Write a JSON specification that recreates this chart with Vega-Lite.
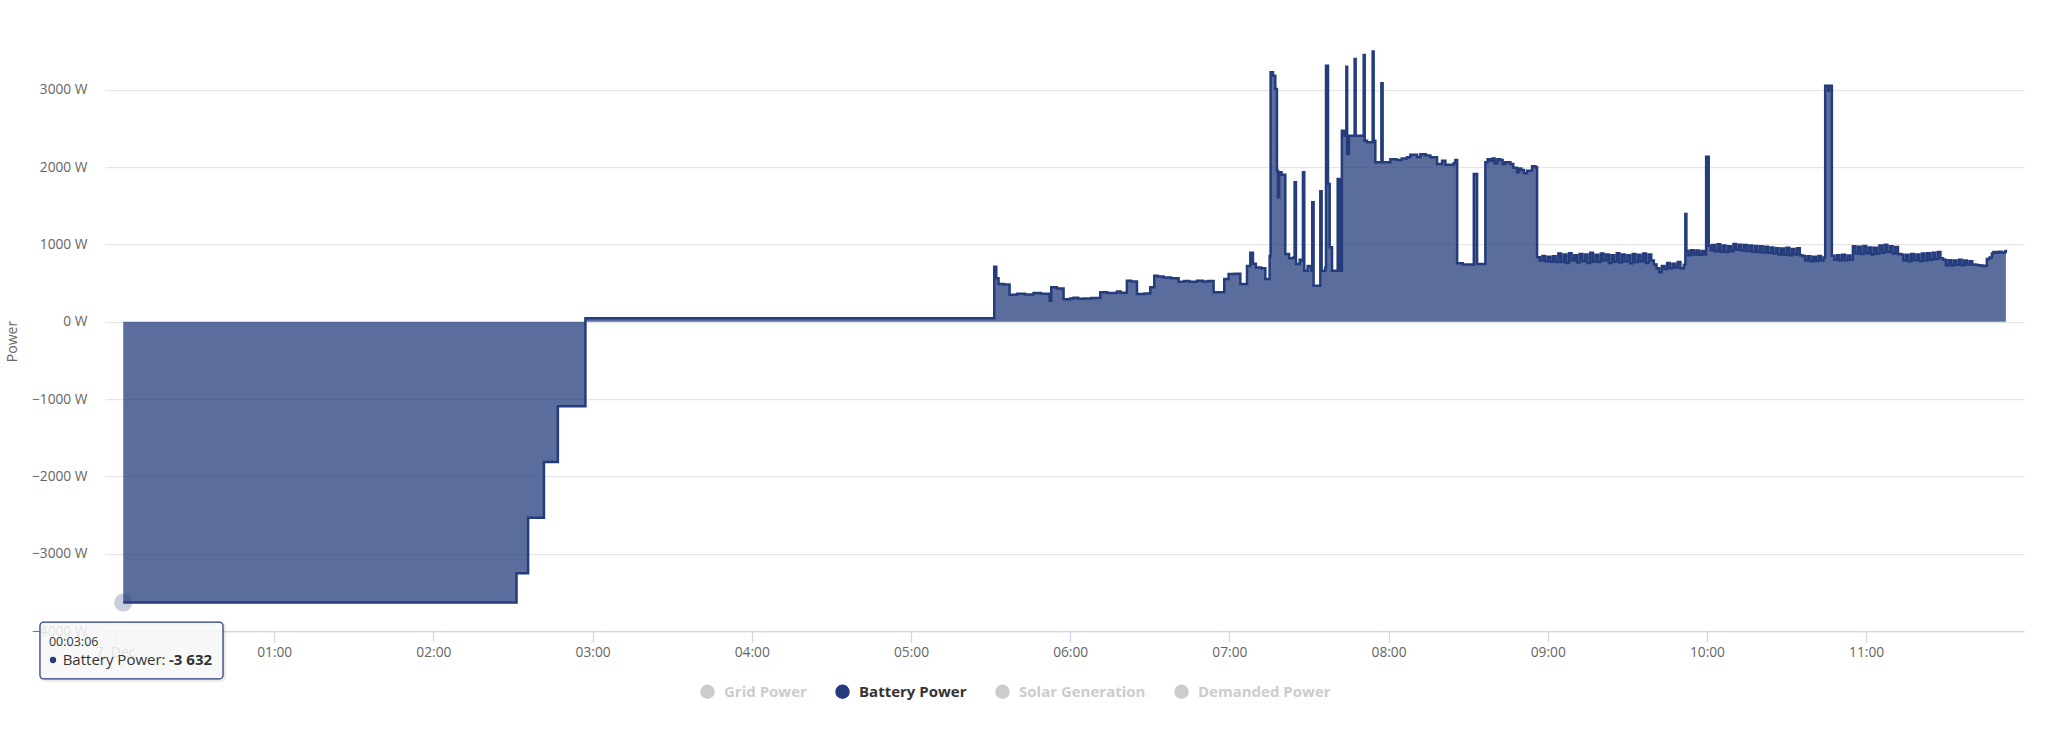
{
  "$schema": "https://vega.github.io/schema/vega-lite/v6.json",
  "width": 1919,
  "height": 580,
  "autosize": {"type": "none"},
  "padding": {"left": 105, "top": 51, "right": 34, "bottom": 105},
  "background": "#ffffff",
  "config": {
    "font": "Open Sans",
    "view": {"stroke": null},
    "axis": {"labelColor": "#666666", "labelFontSize": 13.75, "titleColor": "#666666"}
  },
  "datasets": {
    "battery": [
      {"t": "2023-12-07 00:03:06", "v": -3632},
      {"t": "2023-12-07 02:31:20", "v": -3253},
      {"t": "2023-12-07 02:35:42", "v": -2537},
      {"t": "2023-12-07 02:41:40", "v": -1815},
      {"t": "2023-12-07 02:46:55", "v": -1093},
      {"t": "2023-12-07 02:57:18", "v": 45},
      {"t": "2023-12-07 05:31:23", "v": 711},
      {"t": "2023-12-07 05:32:09", "v": 560},
      {"t": "2023-12-07 05:33:00", "v": 487},
      {"t": "2023-12-07 05:35:00", "v": 480},
      {"t": "2023-12-07 05:37:10", "v": 349},
      {"t": "2023-12-07 05:40:00", "v": 360},
      {"t": "2023-12-07 05:43:00", "v": 352},
      {"t": "2023-12-07 05:46:13", "v": 370},
      {"t": "2023-12-07 05:49:00", "v": 362},
      {"t": "2023-12-07 05:51:15", "v": 360},
      {"t": "2023-12-07 05:52:15", "v": 272},
      {"t": "2023-12-07 05:52:52", "v": 444},
      {"t": "2023-12-07 05:55:00", "v": 430},
      {"t": "2023-12-07 05:57:31", "v": 290},
      {"t": "2023-12-07 06:00:00", "v": 300},
      {"t": "2023-12-07 06:01:16", "v": 310},
      {"t": "2023-12-07 06:03:00", "v": 295},
      {"t": "2023-12-07 06:05:02", "v": 300},
      {"t": "2023-12-07 06:08:00", "v": 305},
      {"t": "2023-12-07 06:11:20", "v": 379},
      {"t": "2023-12-07 06:14:00", "v": 370},
      {"t": "2023-12-07 06:17:38", "v": 390},
      {"t": "2023-12-07 06:19:00", "v": 375},
      {"t": "2023-12-07 06:21:22", "v": 530},
      {"t": "2023-12-07 06:23:00", "v": 520},
      {"t": "2023-12-07 06:25:11", "v": 358},
      {"t": "2023-12-07 06:28:00", "v": 365},
      {"t": "2023-12-07 06:30:11", "v": 444},
      {"t": "2023-12-07 06:31:41", "v": 595},
      {"t": "2023-12-07 06:33:00", "v": 585},
      {"t": "2023-12-07 06:35:13", "v": 570},
      {"t": "2023-12-07 06:38:00", "v": 560},
      {"t": "2023-12-07 06:40:52", "v": 517},
      {"t": "2023-12-07 06:43:00", "v": 525},
      {"t": "2023-12-07 06:45:00", "v": 515},
      {"t": "2023-12-07 06:47:49", "v": 530},
      {"t": "2023-12-07 06:50:00", "v": 520},
      {"t": "2023-12-07 06:52:00", "v": 525},
      {"t": "2023-12-07 06:54:04", "v": 379},
      {"t": "2023-12-07 06:58:05", "v": 552},
      {"t": "2023-12-07 06:59:43", "v": 616},
      {"t": "2023-12-07 07:02:00", "v": 620},
      {"t": "2023-12-07 07:04:08", "v": 487},
      {"t": "2023-12-07 07:06:39", "v": 720},
      {"t": "2023-12-07 07:07:54", "v": 892},
      {"t": "2023-12-07 07:08:54", "v": 750},
      {"t": "2023-12-07 07:10:00", "v": 700},
      {"t": "2023-12-07 07:12:00", "v": 690},
      {"t": "2023-12-07 07:13:33", "v": 552},
      {"t": "2023-12-07 07:15:11", "v": 850},
      {"t": "2023-12-07 07:15:33", "v": 3224},
      {"t": "2023-12-07 07:16:27", "v": 3181},
      {"t": "2023-12-07 07:17:19", "v": 3008},
      {"t": "2023-12-07 07:17:56", "v": 1952},
      {"t": "2023-12-07 07:18:20", "v": 1608},
      {"t": "2023-12-07 07:18:45", "v": 1931},
      {"t": "2023-12-07 07:19:40", "v": 1900},
      {"t": "2023-12-07 07:21:05", "v": 875},
      {"t": "2023-12-07 07:22:30", "v": 820},
      {"t": "2023-12-07 07:24:14", "v": 832},
      {"t": "2023-12-07 07:24:36", "v": 1802},
      {"t": "2023-12-07 07:25:06", "v": 746},
      {"t": "2023-12-07 07:26:30", "v": 800},
      {"t": "2023-12-07 07:27:21", "v": 789},
      {"t": "2023-12-07 07:27:44", "v": 1931},
      {"t": "2023-12-07 07:28:14", "v": 659},
      {"t": "2023-12-07 07:29:30", "v": 720},
      {"t": "2023-12-07 07:30:52", "v": 659},
      {"t": "2023-12-07 07:31:15", "v": 1543},
      {"t": "2023-12-07 07:31:45", "v": 465},
      {"t": "2023-12-07 07:33:54", "v": 465},
      {"t": "2023-12-07 07:34:17", "v": 1685},
      {"t": "2023-12-07 07:34:47", "v": 659},
      {"t": "2023-12-07 07:36:11", "v": 700},
      {"t": "2023-12-07 07:36:26", "v": 3310},
      {"t": "2023-12-07 07:37:11", "v": 1780},
      {"t": "2023-12-07 07:37:49", "v": 961},
      {"t": "2023-12-07 07:38:42", "v": 659},
      {"t": "2023-12-07 07:40:35", "v": 659},
      {"t": "2023-12-07 07:40:50", "v": 1845},
      {"t": "2023-12-07 07:41:27", "v": 659},
      {"t": "2023-12-07 07:42:24", "v": 2470},
      {"t": "2023-12-07 07:43:19", "v": 2405},
      {"t": "2023-12-07 07:44:06", "v": 3297},
      {"t": "2023-12-07 07:44:24", "v": 2168},
      {"t": "2023-12-07 07:45:04", "v": 2405},
      {"t": "2023-12-07 07:47:13", "v": 3396},
      {"t": "2023-12-07 07:47:36", "v": 2405},
      {"t": "2023-12-07 07:50:38", "v": 3448},
      {"t": "2023-12-07 07:51:01", "v": 2340},
      {"t": "2023-12-07 07:51:54", "v": 2319},
      {"t": "2023-12-07 07:54:01", "v": 3495},
      {"t": "2023-12-07 07:54:23", "v": 2340},
      {"t": "2023-12-07 07:55:01", "v": 2060},
      {"t": "2023-12-07 07:57:18", "v": 3082},
      {"t": "2023-12-07 07:57:46", "v": 2060},
      {"t": "2023-12-07 08:00:41", "v": 2100},
      {"t": "2023-12-07 08:03:00", "v": 2090},
      {"t": "2023-12-07 08:05:00", "v": 2110},
      {"t": "2023-12-07 08:06:58", "v": 2125},
      {"t": "2023-12-07 08:08:13", "v": 2160},
      {"t": "2023-12-07 08:10:44", "v": 2130},
      {"t": "2023-12-07 08:12:00", "v": 2165},
      {"t": "2023-12-07 08:14:00", "v": 2150},
      {"t": "2023-12-07 08:15:46", "v": 2125},
      {"t": "2023-12-07 08:18:17", "v": 2039},
      {"t": "2023-12-07 08:20:10", "v": 2080},
      {"t": "2023-12-07 08:21:25", "v": 2030},
      {"t": "2023-12-07 08:24:33", "v": 2050},
      {"t": "2023-12-07 08:25:10", "v": 2090},
      {"t": "2023-12-07 08:25:52", "v": 754},
      {"t": "2023-12-07 08:28:00", "v": 740},
      {"t": "2023-12-07 08:31:53", "v": 737},
      {"t": "2023-12-07 08:32:08", "v": 1909},
      {"t": "2023-12-07 08:33:22", "v": 746},
      {"t": "2023-12-07 08:35:52", "v": 746},
      {"t": "2023-12-07 08:36:29", "v": 2060},
      {"t": "2023-12-07 08:37:20", "v": 2100},
      {"t": "2023-12-07 08:38:22", "v": 2082},
      {"t": "2023-12-07 08:39:10", "v": 2110},
      {"t": "2023-12-07 08:40:00", "v": 2050},
      {"t": "2023-12-07 08:41:00", "v": 2100},
      {"t": "2023-12-07 08:42:08", "v": 2090},
      {"t": "2023-12-07 08:43:00", "v": 2040},
      {"t": "2023-12-07 08:44:00", "v": 2060},
      {"t": "2023-12-07 08:45:55", "v": 2040},
      {"t": "2023-12-07 08:47:00", "v": 1990},
      {"t": "2023-12-07 08:48:25", "v": 1931},
      {"t": "2023-12-07 08:49:10", "v": 1980},
      {"t": "2023-12-07 08:50:00", "v": 1960},
      {"t": "2023-12-07 08:51:00", "v": 1920},
      {"t": "2023-12-07 08:52:12", "v": 1950},
      {"t": "2023-12-07 08:54:06", "v": 2010},
      {"t": "2023-12-07 08:55:22", "v": 1996},
      {"t": "2023-12-07 08:55:59", "v": 832},
      {"t": "2023-12-07 08:57:00", "v": 790},
      {"t": "2023-12-07 08:58:00", "v": 850},
      {"t": "2023-12-07 08:59:00", "v": 780},
      {"t": "2023-12-07 09:00:00", "v": 840},
      {"t": "2023-12-07 09:01:00", "v": 775},
      {"t": "2023-12-07 09:02:00", "v": 845},
      {"t": "2023-12-07 09:03:00", "v": 770},
      {"t": "2023-12-07 09:04:00", "v": 880},
      {"t": "2023-12-07 09:05:00", "v": 770},
      {"t": "2023-12-07 09:06:00", "v": 870},
      {"t": "2023-12-07 09:07:00", "v": 760},
      {"t": "2023-12-07 09:08:00", "v": 885},
      {"t": "2023-12-07 09:09:00", "v": 790},
      {"t": "2023-12-07 09:10:00", "v": 860},
      {"t": "2023-12-07 09:11:00", "v": 765},
      {"t": "2023-12-07 09:12:00", "v": 875},
      {"t": "2023-12-07 09:13:00", "v": 780},
      {"t": "2023-12-07 09:14:00", "v": 870},
      {"t": "2023-12-07 09:15:00", "v": 760},
      {"t": "2023-12-07 09:16:00", "v": 890},
      {"t": "2023-12-07 09:17:00", "v": 775},
      {"t": "2023-12-07 09:18:00", "v": 865},
      {"t": "2023-12-07 09:19:00", "v": 770},
      {"t": "2023-12-07 09:20:00", "v": 880},
      {"t": "2023-12-07 09:21:00", "v": 790},
      {"t": "2023-12-07 09:22:00", "v": 870},
      {"t": "2023-12-07 09:23:00", "v": 760},
      {"t": "2023-12-07 09:24:00", "v": 860},
      {"t": "2023-12-07 09:25:00", "v": 775},
      {"t": "2023-12-07 09:26:00", "v": 885},
      {"t": "2023-12-07 09:27:00", "v": 765},
      {"t": "2023-12-07 09:28:00", "v": 870},
      {"t": "2023-12-07 09:29:00", "v": 780},
      {"t": "2023-12-07 09:30:00", "v": 860},
      {"t": "2023-12-07 09:31:00", "v": 755},
      {"t": "2023-12-07 09:32:00", "v": 875},
      {"t": "2023-12-07 09:33:00", "v": 770},
      {"t": "2023-12-07 09:34:00", "v": 865},
      {"t": "2023-12-07 09:35:00", "v": 780},
      {"t": "2023-12-07 09:36:00", "v": 880},
      {"t": "2023-12-07 09:37:00", "v": 760},
      {"t": "2023-12-07 09:38:00", "v": 870},
      {"t": "2023-12-07 09:39:00", "v": 790},
      {"t": "2023-12-07 09:40:00", "v": 740},
      {"t": "2023-12-07 09:41:00", "v": 690},
      {"t": "2023-12-07 09:42:00", "v": 640},
      {"t": "2023-12-07 09:43:00", "v": 720},
      {"t": "2023-12-07 09:44:00", "v": 680},
      {"t": "2023-12-07 09:45:00", "v": 760},
      {"t": "2023-12-07 09:46:00", "v": 690},
      {"t": "2023-12-07 09:47:00", "v": 750},
      {"t": "2023-12-07 09:48:00", "v": 700},
      {"t": "2023-12-07 09:49:00", "v": 770},
      {"t": "2023-12-07 09:50:00", "v": 690},
      {"t": "2023-12-07 09:51:17", "v": 737},
      {"t": "2023-12-07 09:51:52", "v": 1392},
      {"t": "2023-12-07 09:52:15", "v": 918},
      {"t": "2023-12-07 09:53:00", "v": 860},
      {"t": "2023-12-07 09:54:00", "v": 925},
      {"t": "2023-12-07 09:55:00", "v": 870},
      {"t": "2023-12-07 09:56:00", "v": 920},
      {"t": "2023-12-07 09:57:00", "v": 865},
      {"t": "2023-12-07 09:58:00", "v": 915},
      {"t": "2023-12-07 09:59:00", "v": 870},
      {"t": "2023-12-07 09:59:42", "v": 2133},
      {"t": "2023-12-07 10:00:40", "v": 983},
      {"t": "2023-12-07 10:01:30", "v": 920},
      {"t": "2023-12-07 10:02:00", "v": 990},
      {"t": "2023-12-07 10:03:00", "v": 910},
      {"t": "2023-12-07 10:04:00", "v": 1000},
      {"t": "2023-12-07 10:05:00", "v": 905},
      {"t": "2023-12-07 10:06:00", "v": 985},
      {"t": "2023-12-07 10:07:00", "v": 900},
      {"t": "2023-12-07 10:08:00", "v": 975},
      {"t": "2023-12-07 10:09:00", "v": 910},
      {"t": "2023-12-07 10:10:00", "v": 1005},
      {"t": "2023-12-07 10:11:00", "v": 930},
      {"t": "2023-12-07 10:12:00", "v": 995},
      {"t": "2023-12-07 10:13:00", "v": 920},
      {"t": "2023-12-07 10:14:00", "v": 990},
      {"t": "2023-12-07 10:15:00", "v": 915},
      {"t": "2023-12-07 10:16:00", "v": 985},
      {"t": "2023-12-07 10:17:00", "v": 905},
      {"t": "2023-12-07 10:18:00", "v": 980},
      {"t": "2023-12-07 10:19:00", "v": 900},
      {"t": "2023-12-07 10:20:00", "v": 975},
      {"t": "2023-12-07 10:21:00", "v": 895},
      {"t": "2023-12-07 10:22:00", "v": 970},
      {"t": "2023-12-07 10:23:00", "v": 890},
      {"t": "2023-12-07 10:24:00", "v": 960},
      {"t": "2023-12-07 10:25:00", "v": 880},
      {"t": "2023-12-07 10:26:00", "v": 950},
      {"t": "2023-12-07 10:27:00", "v": 870},
      {"t": "2023-12-07 10:28:00", "v": 945},
      {"t": "2023-12-07 10:29:00", "v": 865},
      {"t": "2023-12-07 10:30:00", "v": 955},
      {"t": "2023-12-07 10:31:00", "v": 860},
      {"t": "2023-12-07 10:32:00", "v": 940},
      {"t": "2023-12-07 10:33:00", "v": 870},
      {"t": "2023-12-07 10:34:00", "v": 950},
      {"t": "2023-12-07 10:35:00", "v": 860},
      {"t": "2023-12-07 10:36:00", "v": 850},
      {"t": "2023-12-07 10:37:00", "v": 790},
      {"t": "2023-12-07 10:38:00", "v": 845},
      {"t": "2023-12-07 10:39:00", "v": 780},
      {"t": "2023-12-07 10:40:00", "v": 840},
      {"t": "2023-12-07 10:41:00", "v": 785},
      {"t": "2023-12-07 10:42:00", "v": 850},
      {"t": "2023-12-07 10:43:00", "v": 790},
      {"t": "2023-12-07 10:44:00", "v": 830},
      {"t": "2023-12-07 10:44:34", "v": 3051},
      {"t": "2023-12-07 10:45:40", "v": 2990},
      {"t": "2023-12-07 10:46:00", "v": 3051},
      {"t": "2023-12-07 10:47:05", "v": 853},
      {"t": "2023-12-07 10:48:00", "v": 800},
      {"t": "2023-12-07 10:49:00", "v": 860},
      {"t": "2023-12-07 10:50:00", "v": 790},
      {"t": "2023-12-07 10:51:00", "v": 865},
      {"t": "2023-12-07 10:52:00", "v": 795},
      {"t": "2023-12-07 10:53:00", "v": 855},
      {"t": "2023-12-07 10:54:00", "v": 800},
      {"t": "2023-12-07 10:55:00", "v": 975},
      {"t": "2023-12-07 10:56:00", "v": 880},
      {"t": "2023-12-07 10:57:00", "v": 970},
      {"t": "2023-12-07 10:58:00", "v": 875},
      {"t": "2023-12-07 10:59:00", "v": 980},
      {"t": "2023-12-07 11:00:00", "v": 885},
      {"t": "2023-12-07 11:01:00", "v": 960},
      {"t": "2023-12-07 11:02:00", "v": 870},
      {"t": "2023-12-07 11:03:00", "v": 955},
      {"t": "2023-12-07 11:04:00", "v": 880},
      {"t": "2023-12-07 11:05:00", "v": 985},
      {"t": "2023-12-07 11:06:00", "v": 890},
      {"t": "2023-12-07 11:07:00", "v": 995},
      {"t": "2023-12-07 11:08:00", "v": 900},
      {"t": "2023-12-07 11:09:00", "v": 975},
      {"t": "2023-12-07 11:10:00", "v": 880},
      {"t": "2023-12-07 11:11:00", "v": 965},
      {"t": "2023-12-07 11:12:00", "v": 875},
      {"t": "2023-12-07 11:13:00", "v": 870},
      {"t": "2023-12-07 11:14:00", "v": 790},
      {"t": "2023-12-07 11:15:00", "v": 865},
      {"t": "2023-12-07 11:16:00", "v": 780},
      {"t": "2023-12-07 11:17:00", "v": 875},
      {"t": "2023-12-07 11:18:00", "v": 795},
      {"t": "2023-12-07 11:19:00", "v": 870},
      {"t": "2023-12-07 11:20:00", "v": 785},
      {"t": "2023-12-07 11:21:00", "v": 880},
      {"t": "2023-12-07 11:22:00", "v": 790},
      {"t": "2023-12-07 11:23:00", "v": 885},
      {"t": "2023-12-07 11:24:00", "v": 800},
      {"t": "2023-12-07 11:25:00", "v": 890},
      {"t": "2023-12-07 11:26:00", "v": 810},
      {"t": "2023-12-07 11:27:00", "v": 900},
      {"t": "2023-12-07 11:28:00", "v": 820},
      {"t": "2023-12-07 11:29:00", "v": 800},
      {"t": "2023-12-07 11:30:00", "v": 730},
      {"t": "2023-12-07 11:31:00", "v": 795},
      {"t": "2023-12-07 11:32:00", "v": 725},
      {"t": "2023-12-07 11:33:00", "v": 790},
      {"t": "2023-12-07 11:34:00", "v": 735},
      {"t": "2023-12-07 11:35:00", "v": 800},
      {"t": "2023-12-07 11:36:00", "v": 730},
      {"t": "2023-12-07 11:37:00", "v": 790},
      {"t": "2023-12-07 11:38:00", "v": 740},
      {"t": "2023-12-07 11:39:00", "v": 780},
      {"t": "2023-12-07 11:40:00", "v": 740},
      {"t": "2023-12-07 11:41:00", "v": 735},
      {"t": "2023-12-07 11:42:00", "v": 730},
      {"t": "2023-12-07 11:43:00", "v": 725},
      {"t": "2023-12-07 11:44:00", "v": 720},
      {"t": "2023-12-07 11:44:53", "v": 724},
      {"t": "2023-12-07 11:45:30", "v": 810},
      {"t": "2023-12-07 11:46:30", "v": 830},
      {"t": "2023-12-07 11:47:24", "v": 883},
      {"t": "2023-12-07 11:48:00", "v": 900},
      {"t": "2023-12-07 11:49:00", "v": 890},
      {"t": "2023-12-07 11:50:00", "v": 905},
      {"t": "2023-12-07 11:51:00", "v": 895},
      {"t": "2023-12-07 11:52:26", "v": 909},
      {"t": "2023-12-07 11:52:40", "v": 930}
    ]
  },
  "layer": [
    {
      "data": {"name": "battery", "format": {"parse": {"t": "date:'%Y-%m-%d %H:%M:%S'"}}},
      "mark": {"type": "area", "interpolate": "step-after", "fillOpacity": 0.75, "line": {"color": "#243c7c", "strokeWidth": 2.5}},
      "encoding": {
        "x": {
          "field": "t",
          "type": "temporal",
          "title": null,
          "scale": {"domain": [
            {"year": 2023, "month": 12, "date": 6, "hours": 23, "minutes": 56, "seconds": 14},
            {"year": 2023, "month": 12, "date": 7, "hours": 11, "minutes": 59, "seconds": 30}
          ]},
          "axis": {
            "grid": false,
            "values": [
              {"year": 2023, "month": 12, "date": 7, "hours": 0},
              {"year": 2023, "month": 12, "date": 7, "hours": 1},
              {"year": 2023, "month": 12, "date": 7, "hours": 2},
              {"year": 2023, "month": 12, "date": 7, "hours": 3},
              {"year": 2023, "month": 12, "date": 7, "hours": 4},
              {"year": 2023, "month": 12, "date": 7, "hours": 5},
              {"year": 2023, "month": 12, "date": 7, "hours": 6},
              {"year": 2023, "month": 12, "date": 7, "hours": 7},
              {"year": 2023, "month": 12, "date": 7, "hours": 8},
              {"year": 2023, "month": 12, "date": 7, "hours": 9},
              {"year": 2023, "month": 12, "date": 7, "hours": 10},
              {"year": 2023, "month": 12, "date": 7, "hours": 11}
            ],
            "format": "%H:%M",
            "labelExpr": "datum.label == '00:00' ? '7. Dec' : datum.label",
            "domainColor": "#ccd6eb",
            "domainWidth": 1.25,
            "tickColor": "#ccd6eb",
            "tickWidth": 1.25,
            "tickSize": 11,
            "labelPadding": 3
          }
        },
        "y": {
          "field": "v",
          "type": "quantitative",
          "title": "Power",
          "scale": {"domain": [-4000, 3500], "nice": false},
          "axis": {
            "values": [-4000, -3000, -2000, -1000, 0, 1000, 2000, 3000],
            "format": "d",
            "labelExpr": "datum.label + ' W'",
            "domain": false,
            "ticks": false,
            "labelPadding": 18,
            "gridColor": "#e6e6e6",
            "gridWidth": 1.25,
            "titleFontSize": 14,
            "titleFontWeight": "normal",
            "titlePadding": 12
          }
        },
        "color": {
          "datum": "Battery Power",
          "scale": {
            "domain": ["Grid Power", "Battery Power", "Solar Generation", "Demanded Power"],
            "range": ["#cccccc", "#243c7c", "#cccccc", "#cccccc"]
          },
          "legend": {
            "title": null,
            "orient": "none",
            "legendX": 595,
            "legendY": 633,
            "direction": "horizontal",
            "symbolType": "circle",
            "symbolSize": 210,
            "symbolStrokeWidth": 0,
            "symbolOpacity": 1,
            "labelFontSize": 15,
            "labelFontWeight": "bold",
            "labelColor": "#cccccc",
            "labelOffset": 9,
            "columnPadding": 28,
            "encode": {
              "labels": {"update": {"fill": {"signal": "datum.label === 'Battery Power' ? '#333333' : '#cccccc'"}}}
            }
          }
        }
      }
    },
    {
      "data": {"values": [{"t": "2023-12-07 00:03:06", "v": -3632}], "format": {"parse": {"t": "date:'%Y-%m-%d %H:%M:%S'"}}},
      "mark": {"type": "point", "filled": true, "size": 324, "color": "#243c7c", "opacity": 0.25},
      "encoding": {
        "x": {"field": "t", "type": "temporal", "title": null},
        "y": {"field": "v", "type": "quantitative", "title": "Power"}
      }
    },
    {
      "data": {"values": [
        {"a": "2023-12-06 23:32:17", "b": "2023-12-07 00:41:17", "y1": -3903, "y2": -4639}
      ], "format": {"parse": {"a": "date:'%Y-%m-%d %H:%M:%S'", "b": "date:'%Y-%m-%d %H:%M:%S'"}}},
      "mark": {"type": "rect", "filled": false, "stroke": "#000000", "strokeOpacity": 0.08, "strokeWidth": 3, "cornerRadius": 4},
      "encoding": {
        "x": {"field": "a", "type": "temporal", "title": null},
        "x2": {"field": "b"},
        "y": {"field": "y1", "type": "quantitative", "title": "Power"},
        "y2": {"field": "y2"}
      }
    },
    {
      "data": {"values": [
        {"a": "2023-12-06 23:31:43", "b": "2023-12-07 00:40:43", "y1": -3884, "y2": -4620}
      ], "format": {"parse": {"a": "date:'%Y-%m-%d %H:%M:%S'", "b": "date:'%Y-%m-%d %H:%M:%S'"}}},
      "mark": {"type": "rect", "fill": "#f7f7f7", "fillOpacity": 0.85, "stroke": "#243c7c", "strokeWidth": 1.25, "cornerRadius": 3.75},
      "encoding": {
        "x": {"field": "a", "type": "temporal", "title": null},
        "x2": {"field": "b"},
        "y": {"field": "y1", "type": "quantitative", "title": "Power"},
        "y2": {"field": "y2"}
      }
    },
    {
      "data": {"values": [{"t": "2023-12-07 00:05:39", "v": -3845}], "format": {"parse": {"t": "date:'%Y-%m-%d %H:%M:%S'"}}},
      "mark": {"type": "point", "shape": "M-1,0.55L0,-0.4L1,0.55Z", "size": 225, "filled": true, "fill": "#f7f7f7", "opacity": 1, "strokeWidth": 0},
      "encoding": {
        "x": {"field": "t", "type": "temporal", "title": null},
        "y": {"field": "v", "type": "quantitative", "title": "Power"}
      }
    },
    {
      "data": {"values": [{"t": "2023-12-07 00:05:39", "v": -3845}], "format": {"parse": {"t": "date:'%Y-%m-%d %H:%M:%S'"}}},
      "mark": {"type": "point", "shape": "M-1,0.4L0,-0.4L1,0.4", "size": 225, "filled": false, "stroke": "#243c7c", "strokeWidth": 1.25, "opacity": 1},
      "encoding": {
        "x": {"field": "t", "type": "temporal", "title": null},
        "y": {"field": "v", "type": "quantitative", "title": "Power"}
      }
    },
    {
      "data": {"values": [{"t": "2023-12-06 23:36:38", "v": -4375}], "format": {"parse": {"t": "date:'%Y-%m-%d %H:%M:%S'"}}},
      "mark": {"type": "point", "filled": true, "size": 40, "color": "#243c7c", "opacity": 1},
      "encoding": {
        "x": {"field": "t", "type": "temporal", "title": null},
        "y": {"field": "v", "type": "quantitative", "title": "Power"}
      }
    },
    {
      "data": {"values": [
        {"t": "2023-12-06 23:35:07", "v": -4142, "label": "00:03:06"}
      ], "format": {"parse": {"t": "date:'%Y-%m-%d %H:%M:%S'"}}},
      "mark": {"type": "text", "align": "left", "baseline": "middle", "fontSize": 12.5, "color": "#333333"},
      "encoding": {
        "x": {"field": "t", "type": "temporal", "title": null},
        "y": {"field": "v", "type": "quantitative", "title": "Power"},
        "text": {"field": "label"}
      }
    },
    {
      "data": {"values": [
        {"t": "2023-12-06 23:40:17", "v": -4375, "label": "Battery Power:"}
      ], "format": {"parse": {"t": "date:'%Y-%m-%d %H:%M:%S'"}}},
      "mark": {"type": "text", "align": "left", "baseline": "middle", "fontSize": 15, "color": "#333333"},
      "encoding": {
        "x": {"field": "t", "type": "temporal", "title": null},
        "y": {"field": "v", "type": "quantitative", "title": "Power"},
        "text": {"field": "label"}
      }
    },
    {
      "data": {"values": [
        {"t": "2023-12-07 00:20:22", "v": -4375, "label": "-3 632"}
      ], "format": {"parse": {"t": "date:'%Y-%m-%d %H:%M:%S'"}}},
      "mark": {"type": "text", "align": "left", "baseline": "middle", "fontSize": 15, "fontWeight": "bold", "color": "#333333"},
      "encoding": {
        "x": {"field": "t", "type": "temporal", "title": null},
        "y": {"field": "v", "type": "quantitative", "title": "Power"},
        "text": {"field": "label"}
      }
    }
  ]
}
